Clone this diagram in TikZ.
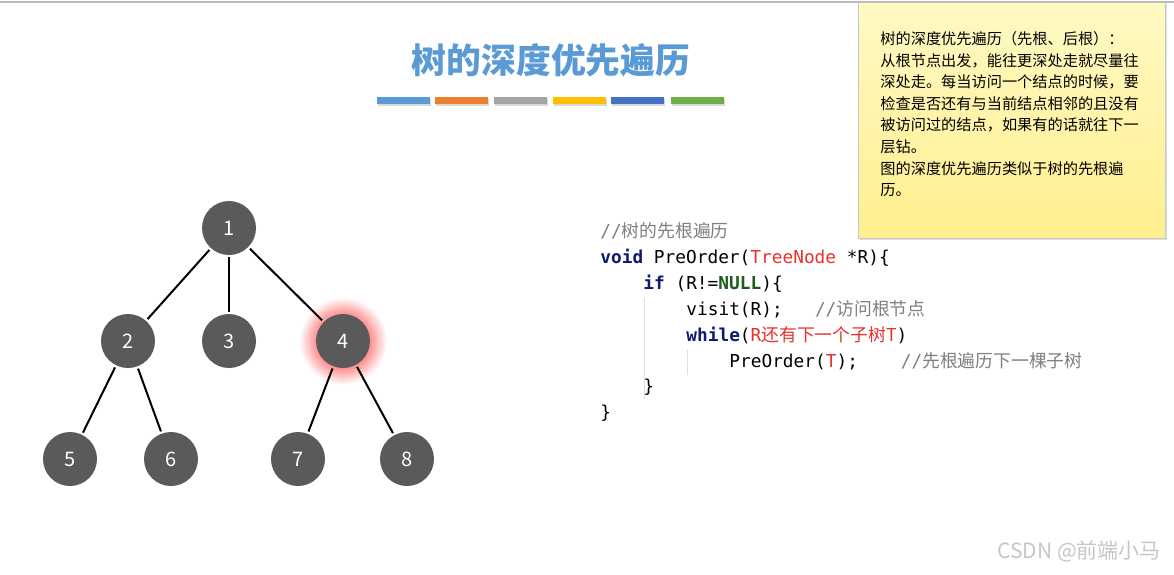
\documentclass[tikz,border=0pt]{standalone}
\usepackage{xcolor}
\usepackage{fontspec}
\setmainfont{Noto Sans CJK SC}
\setmonofont{DejaVu Sans Mono}
\newfontfamily\cjk{Noto Sans CJK SC}
\usepackage{tikz}
\usetikzlibrary{positioning}
\usetikzlibrary{shadows}
\definecolor{titleblue}{HTML}{5B9BD5}
\definecolor{barorange}{HTML}{ED7D31}
\definecolor{bargray}{HTML}{A5A5A5}
\definecolor{baryellow}{HTML}{FFC000}
\definecolor{bardblue}{HTML}{4472C4}
\definecolor{bargreen}{HTML}{70AD47}
\definecolor{nodegray}{HTML}{5A5A5A}
\definecolor{notetop}{HTML}{FFF9C4}
\definecolor{notebot}{HTML}{FFEF8E}
\definecolor{kwblue}{HTML}{101A6E}
\definecolor{nullgreen}{HTML}{1E5A1E}
\definecolor{typered}{HTML}{E8322E}
\definecolor{cmtgray}{HTML}{808080}
\pgfdeclareradialshading{glow}{\pgfpoint{0bp}{0bp}}{%
  color(0bp)=(red!45); color(15bp)=(red!45); color(25bp)=(white); color(50bp)=(white)}
\tikzset{
    Node/.style = {circle, fill=nodegray, draw=none, text=white, inner sep=0pt,
                   minimum size=27pt, font=\fontsize{10}{12}\selectfont},
    bar/.style = {minimum width=26.5pt, minimum height=3.5pt, inner sep=0pt,
                  drop shadow={shadow xshift=0.5pt, shadow yshift=-1pt, opacity=0.3}},
    codeline/.style = {anchor=base west, inner sep=0pt,
                       font=\ttfamily\fontsize{8.9}{10}\selectfont},
}

\begin{document}
\begin{tikzpicture}[x=0.5pt, y=-0.5pt]
\tikzset{
    edgen/.style = {-, line width=1pt, black, shorten <=1pt, shorten >=1pt},
    guide/.style = {gray!25, line width=0.5pt}
}
\useasboundingbox (0,0) rectangle (1174,574);
\fill[white] (0,0) rectangle (1174,574);
\draw[gray!55, line width=1pt] (0,2) -- (1174,2);
% title and colour bars
\node[font=\bfseries\fontsize{17.4}{20}\selectfont, text=titleblue] (title) at (551,60) {树的深度优先遍历};
\node[bar, fill=titleblue]  (b1) at (403,100) {};
\node[bar, fill=barorange]  (b2) at (461,100) {};
\node[bar, fill=bargray]    (b3) at (520,100) {};
\node[bar, fill=baryellow]  (b4) at (579,100) {};
\node[bar, fill=bardblue]   (b5) at (637,100) {};
\node[bar, fill=bargreen]   (b6) at (697,100) {};
%
% note
\node[draw=gray!45, line width=0.5pt, top color=notetop, bottom color=notebot,
      minimum width=153.5pt, minimum height=118pt, anchor=north west, inner sep=0pt,
      drop shadow={shadow xshift=0.6pt, shadow yshift=-0.8pt, opacity=0.25}] (note) at (858,2) {};
\node[anchor=north west, inner sep=0pt, align=left,
      font=\fontsize{7.6}{10.8}\selectfont] (notetext) at (880,31)
  {树的深度优先遍历（先根、后根）：\\
   从根节点出发，能往更深处走就尽量往\\
   深处走。每当访问一个结点的时候，要\\
   检查是否还有与当前结点相邻的且没有\\
   被访问过的结点，如果有的话就往下一\\
   层钻。\\
   图的深度优先遍历类似于树的先根遍\\
   历。};
%
% tree
\shade[shading=glow] (343,341) circle (44);
\node[Node] at (229,228) (n1) {1};
\node[Node] at (128,341) (n2) {2};
\node[Node] at (229,341) (n3) {3};
\node[Node] at (343,341) (n4) {4};
\node[Node] at (70,459)  (n5) {5};
\node[Node] at (171,459) (n6) {6};
\node[Node] at (298,459) (n7) {7};
\node[Node] at (407,459) (n8) {8};
%
\draw[edgen] (n1) edge (n2);
\draw[edgen] (n1) edge (n3);
\draw[edgen] (n1) edge (n4);
\draw[edgen] (n2) edge (n5);
\draw[edgen] (n2) edge (n6);
\draw[edgen] (n4) edge (n7);
\draw[edgen] (n4) edge (n8);
%
% code
\draw[guide] (644,298) -- (644,399);
\draw[guide] (687,350) -- (687,375);
\node[codeline] (c0) at (600,237) {\color{cmtgray}//\cjk 树的先根遍历};
\node[codeline] (c1) at (600,263) {{\color{kwblue}\bfseries void} PreOrder({\color{typered}TreeNode} *R)\{};
\node[codeline] (c2) at (643,289) {{\color{kwblue}\bfseries if} (R!={\color{nullgreen}\bfseries NULL})\{};
\node[codeline] (c3) at (686,315) {visit(R);\ \ \ {\color{cmtgray}//\cjk 访问根节点}};
\node[codeline] (c4) at (686,341) {{\color{kwblue}\bfseries while}({\color{typered}R\cjk 还有下一个子树T})};
\node[codeline] (c5) at (729,367) {PreOrder({\color{typered}T});\ \ \ \ {\color{cmtgray}//\cjk 先根遍历下一棵子树}};
\node[codeline] (c6) at (643,392) {\}};
\node[codeline] (c7) at (600,418) {\}};
%
\node[text=gray!45, font=\fontsize{10.5}{12}\selectfont, anchor=east] (mark) at (1168,551) {CSDN @前端小马};
\end{tikzpicture}
\end{document}
